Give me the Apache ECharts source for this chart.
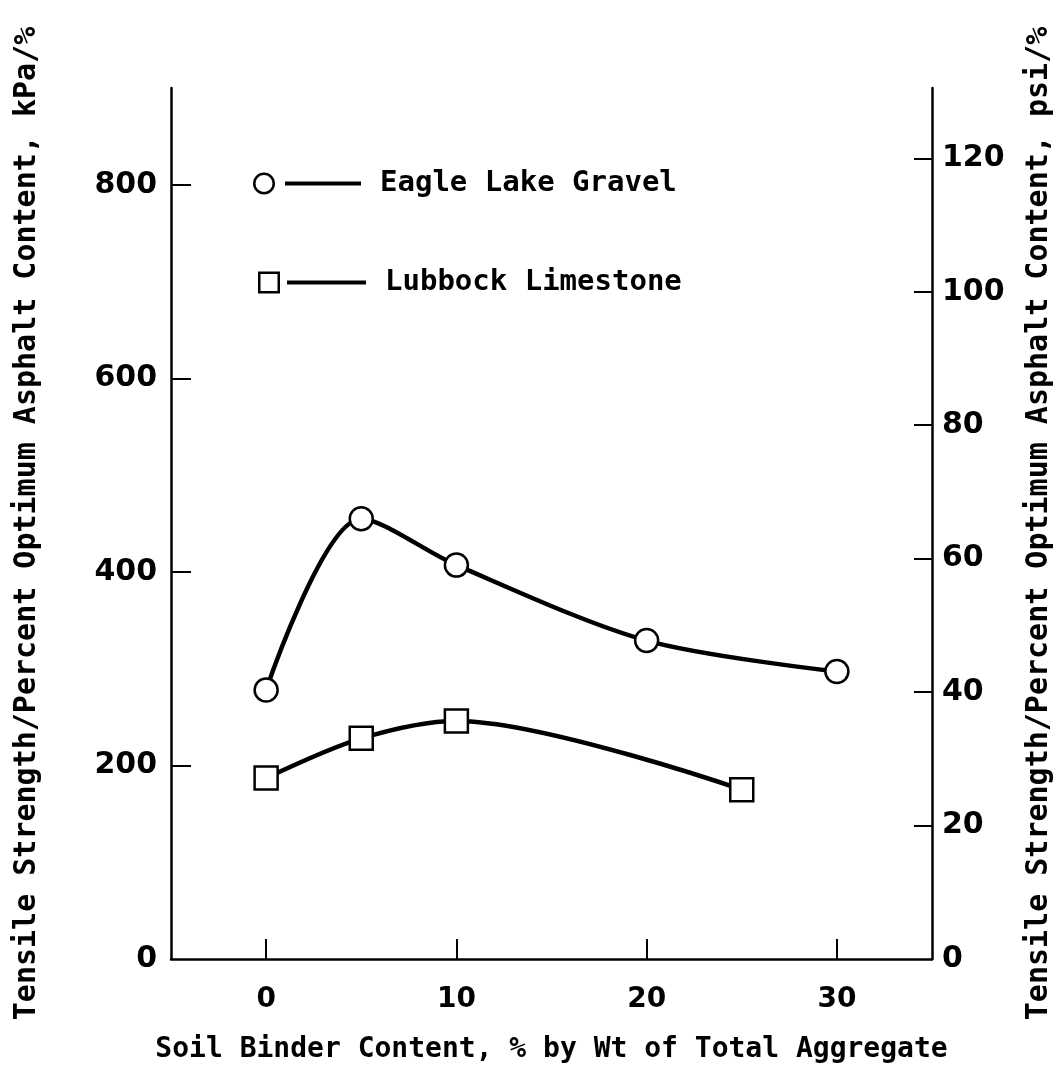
<!DOCTYPE html>
<html>
<head>
<meta charset="utf-8">
<script src="https://cdn.jsdelivr.net/npm/echarts@6/dist/echarts.min.js"></script>
<style>
  html, body { margin: 0; padding: 0; background: #fff; }
  #chart { width: 1062px; height: 1069px; }
</style>
</head>
<body>
<div id="chart"></div>
<script>
// ---- data ----
const xTicks = [0, 10, 20, 30];
const yTicksKpa = [0, 200, 400, 600, 800];
const yTicksPsi = [0, 20, 40, 60, 80, 100, 120];
const eagleName = 'Eagle Lake Gravel';
const eagleX = [0, 5, 10, 20, 30];
const eagleY = [278, 455, 407, 329, 297];
const lubbockName = 'Lubbock Limestone';
const lubbockX = [0, 5, 10, 25];
const lubbockY = [187, 228, 246, 175];
const kpaPerPsi = 6.895;
const xTitle = 'Soil Binder Content, % by Wt of Total Aggregate';
const yTitleLeft = 'Tensile Strength/Percent Optimum Asphalt Content, kPa/%';
const yTitleRight = 'Tensile Strength/Percent Optimum Asphalt Content, psi/%';

const X_MIN = -5, X_MAX = 35, Y_MAX = 900;

const numFont = 'DejaVu Sans';
const txtFont = 'DejaVu Sans Mono';

const circleIcon = 'path://M0,11 A11,11 0 1,1 22,11 A11,11 0 1,1 0,11 Z M2.5,11 A8.5,8.5 0 1,0 19.5,11 A8.5,8.5 0 1,0 2.5,11 Z M32,9 L108,9 L108,13 L32,13 Z';
const squareIcon = 'path://M0,0 L22,0 L22,22 L0,22 Z M2.5,2.5 L2.5,19.5 L19.5,19.5 L19.5,2.5 Z M29,9 L108,9 L108,13 L29,13 Z';

function pairs(xs, ys) { return xs.map((x, i) => [x, ys[i]]); }

const chart = echarts.init(document.getElementById('chart'), null, { renderer: 'canvas' });

const legendText = { fontFamily: txtFont, fontWeight: 'bold', fontSize: 29, color: '#000', padding: [0, 0, 0, 14] };

chart.setOption({
  backgroundColor: '#fff',
  animation: false,
  grid: { left: 171, right: 126, top: 88, bottom: 109, containLabel: false },
  legend: [
    {
      data: [{ name: eagleName, icon: circleIcon, itemStyle: { color: '#000', borderWidth: 0 } }],
      left: 248, top: 164, itemWidth: 108, itemHeight: 22, selectedMode: false,
      textStyle: legendText
    },
    {
      data: [{ name: lubbockName, icon: squareIcon, itemStyle: { color: '#000', borderWidth: 0 } }],
      left: 253, top: 263, itemWidth: 108, itemHeight: 22, selectedMode: false,
      textStyle: legendText
    }
  ],
  xAxis: {
    type: 'value', min: X_MIN, max: X_MAX, position: 'bottom',
    axisLine: { show: true, onZero: false, lineStyle: { color: '#000', width: 2.5 } },
    axisTick: { show: true, inside: true, length: 20, lineStyle: { color: '#000', width: 2 }, customValues: xTicks },
    axisLabel: { customValues: xTicks, margin: 27, fontFamily: numFont, fontWeight: 'bold', fontSize: 28, color: '#000' },
    splitLine: { show: false },
    name: xTitle, nameLocation: 'middle', nameGap: 77,
    nameTextStyle: { fontFamily: txtFont, fontWeight: 'bold', fontSize: 28, color: '#000' }
  },
  yAxis: [
    {
      type: 'value', min: 0, max: Y_MAX, position: 'left',
      axisLine: { show: true, onZero: false, lineStyle: { color: '#000', width: 2.5 } },
      axisTick: { show: true, inside: true, length: 20, lineStyle: { color: '#000', width: 2 }, customValues: yTicksKpa.filter(v => v > 0) },
      axisLabel: { customValues: yTicksKpa, margin: 14, fontFamily: numFont, fontWeight: 'bold', fontSize: 30, color: '#000' },
      splitLine: { show: false },
      name: yTitleLeft, nameLocation: 'middle', nameGap: 129,
      nameTextStyle: { fontFamily: txtFont, fontWeight: 'bold', fontSize: 30, color: '#000' }
    },
    {
      type: 'value', min: 0, max: Y_MAX / kpaPerPsi, position: 'right',
      axisLine: { show: true, onZero: false, lineStyle: { color: '#000', width: 2.5 } },
      axisTick: { show: true, inside: true, length: 18, lineStyle: { color: '#000', width: 2 }, customValues: yTicksPsi.filter(v => v > 0) },
      axisLabel: { customValues: yTicksPsi, margin: 10, fontFamily: numFont, fontWeight: 'bold', fontSize: 30, color: '#000' },
      splitLine: { show: false },
      name: yTitleRight, nameLocation: 'middle', nameGap: 92,
      nameTextStyle: { fontFamily: txtFont, fontWeight: 'bold', fontSize: 30, color: '#000' }
    }
  ],
  series: [
    {
      name: eagleName, type: 'line', yAxisIndex: 0,
      data: pairs(eagleX, eagleY),
      smooth: 0.3,
      symbol: 'circle', symbolSize: 23,
      itemStyle: { color: '#fff', borderColor: '#000', borderWidth: 2.5 },
      lineStyle: { color: '#000', width: 4.5 },
      z: 3
    },
    {
      name: lubbockName, type: 'line', yAxisIndex: 0,
      data: pairs(lubbockX, lubbockY),
      smooth: 0.3,
      symbol: 'rect', symbolSize: 23,
      itemStyle: { color: '#fff', borderColor: '#000', borderWidth: 2.5 },
      lineStyle: { color: '#000', width: 4.5 },
      z: 3
    }
  ]
});
</script>
</body>
</html>
